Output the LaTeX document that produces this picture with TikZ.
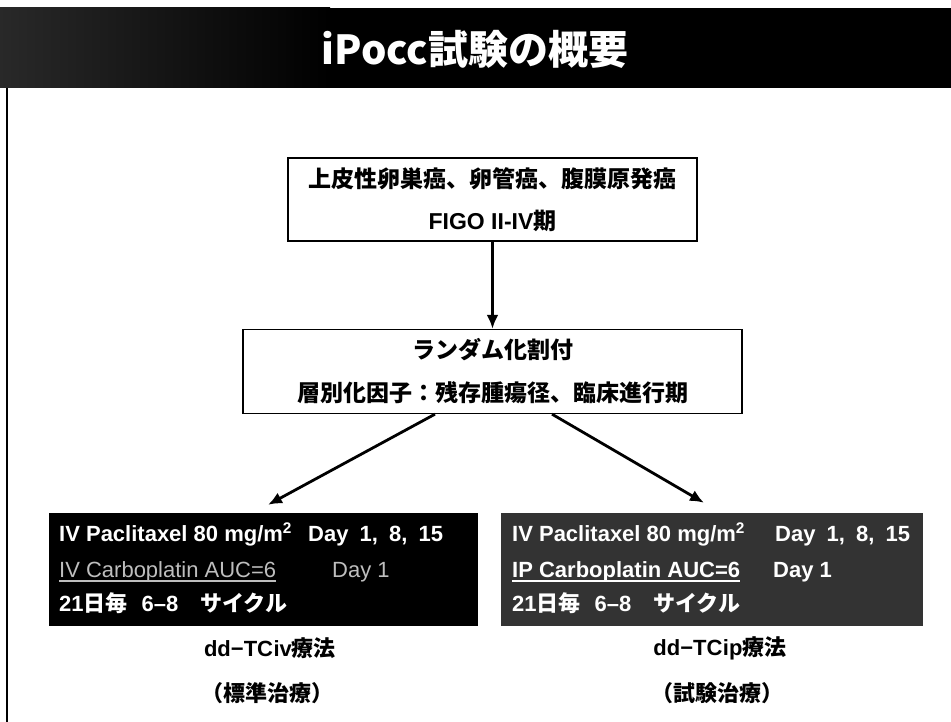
\documentclass[tikz,border=0pt]{standalone}
\usepackage{fontspec}
\setmainfont{Liberation Sans}
\newfontfamily\jp{Noto Sans CJK JP}
\usetikzlibrary{arrows.meta,calc}
\newcommand{\J}[1]{{\jp #1}}
\newcommand{\fsz}[1]{\fontsize{#1}{#1}\selectfont}
\definecolor{lgray}{HTML}{BEBEBE}
\begin{document}
\begin{tikzpicture}[x=1pt,y=-1pt,
  wbox/.style={draw=black, line width=1.3pt, fill=white, inner sep=0pt, align=center},
  dbox/.style={draw=none, inner sep=0pt},
  txt/.style={inner sep=0pt, anchor=base west, text=white},
  arr/.style={line width=2.8pt, -{Latex[length=14pt,width=12pt]}},
  captxt/.style={inner sep=0pt}
]
\useasboundingbox (0,0) rectangle (951,722);
% title bar
\fill[black] (0,8) rectangle (951,88);
\shade[left color=black!84, right color=black] (0,8) rectangle (330,88);
\node[captxt, text=white] (title) at (475,49) {\fsz{40}\jp\bfseries iPocc試験の概要};
% left frame line
\draw[line width=2pt] (7,88) -- (7,722);

% top box
\node[wbox, minimum width=409pt, minimum height=83pt,
      font={\fontsize{23}{42}\selectfont\bfseries}] (b1) at (492.5,199.5)
  {\J{上皮性卵巣癌、卵管癌、腹膜原発癌}\\ FIGO II-IV\J{期}};
% randomisation box
\node[wbox, minimum width=499pt, minimum height=84pt,
      font={\fontsize{23}{43}\selectfont\bfseries}] (b2) at (492.5,371.5)
  {\J{ランダム化割付}\\ \J{層別化因子：残存腫瘍径、臨床進行期}};

% lower boxes
\node[dbox, fill=black, minimum width=429pt, minimum height=113pt] (L) at (263.5,569.5) {};
\node[dbox, fill=black!80, minimum width=422pt, minimum height=113pt] (R) at (712,569.5) {};

% left box texts
\node[txt] (l1a) at (59,541) {\fsz{22}\bfseries IV Paclitaxel 80 mg/m\textsuperscript{2}};
\node[txt] (l1b) at (308,541) {\fsz{22}\bfseries Day\hspace{5pt} 1,\hspace{5pt} 8,\hspace{5pt} 15};
\node[txt, text=lgray] (l2a) at (59,577) {\fsz{22}IV Carboplatin AUC=6};
\node[txt, text=lgray] (l2b) at (332,577) {\fsz{22}Day 1};
\draw[lgray, line width=1.4pt] ($(l2a.base west)+(0,4)$) -- ($(l2a.base east)+(0,4)$);
\node[txt] (l3) at (59,611) {\fsz{22}\bfseries 21\J{日毎}\hspace{14pt}6–8\hspace{22pt}\J{サイクル}};

% right box texts
\node[txt] (r1a) at (512,541) {\fsz{22}\bfseries IV Paclitaxel 80 mg/m\textsuperscript{2}};
\node[txt] (r1b) at (775,541) {\fsz{22}\bfseries Day\hspace{5pt} 1,\hspace{5pt} 8,\hspace{5pt} 15};
\node[txt] (r2a) at (512,577) {\fsz{22}\bfseries IP Carboplatin AUC=6};
\node[txt] (r2b) at (773,577) {\fsz{22}\bfseries Day 1};
\draw[white, line width=1.4pt] ($(r2a.base west)+(0,4)$) -- ($(r2a.base east)+(0,4)$);
\node[txt] (r3) at (512,611) {\fsz{22}\bfseries 21\J{日毎}\hspace{14pt}6–8\hspace{22pt}\J{サイクル}};

% captions
\node[captxt] (lc1) at (270,648) {\fsz{22}\bfseries dd−TC\kern0.5pt iv\J{療法}};
\node[captxt] (lc2) at (267,693) {\fsz{22}\bfseries\J{（標準治療）}};
\node[captxt] (rc1) at (720,648) {\fsz{22}\bfseries dd−TC\kern0.5pt ip\J{療法}};
\node[captxt] (rc2) at (717,693) {\fsz{22}\bfseries\J{（試験治療）}};

% arrows
\coordinate (s1) at ($(b2.south)+(-57.5,0)$);
\coordinate (s2) at ($(b2.south)+(59.5,0)$);
\coordinate (t1) at ($(L.north)+(4.5,-8)$);
\coordinate (t2) at ($(R.north)+(-8,-10)$);
\draw[arr] (b1.south) -- (b2.north);
\draw[arr] (s1) -- (t1);
\draw[arr] (s2) -- (t2);
\end{tikzpicture}
\end{document}
